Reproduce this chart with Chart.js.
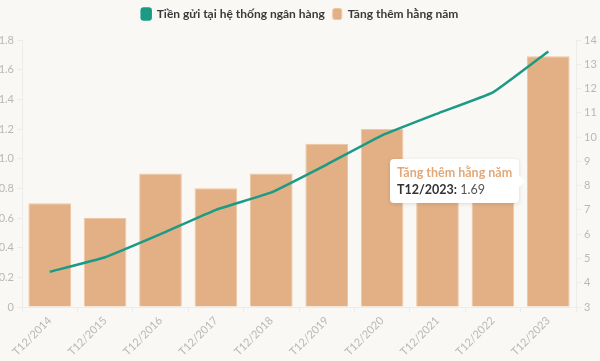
<!DOCTYPE html>
<html>
<head>
<meta charset="utf-8">
<script src="https://cdn.jsdelivr.net/npm/chart.js@4/dist/chart.umd.min.js"></script>
<style>
  html, body { margin: 0; padding: 0; background: #faf8f4; }
  #wrap { position: relative; width: 600px; height: 361px; }
  #tip {
    position: absolute; display: none; background: #fff; border-radius: 4px;
    padding: 6px 7px; font-family: Lato, "Open Sans", sans-serif; font-size: 12.5px;
    box-shadow: 0 1px 4px rgba(0,0,0,0.12); white-space: nowrap; pointer-events: none;
  }
  #tip .t { color: #e2a878; font-weight: bold; margin-bottom: 2px; }
  #tip .b { color: #555; }
  #tip .b b { color: #333; }
  #tip:after {
    content: ""; position: absolute; right: -6px; top: 50%; margin-top: -6px;
    border-style: solid; border-width: 6px 0 6px 6px;
    border-color: transparent transparent transparent #fff;
  }
</style>
</head>
<body>
<div id="wrap">
  <canvas id="chart" width="600" height="361"></canvas>
  <div id="tip"></div>
</div>
<script>
// dữ liệu
const categories = ["T12/2014", "T12/2015", "T12/2016", "T12/2017", "T12/2018",
  "T12/2019", "T12/2020", "T12/2021", "T12/2022", "T12/2023"];
const tienGui = [4.45, 5.05, 6.0, 7.0, 7.72, 8.87, 10.07, 10.97, 11.84, 13.53];
const tangThem = [0.7, 0.6, 0.9, 0.8, 0.9, 1.1, 1.2, 0.9, 0.87, 1.69];

const TEAL = "#1b9a86";
const ORANGE = "#e2b084";
const TICK = "#b8b8b8";
const GRID = "#ececec";
const FONT = "Lato, 'Open Sans', sans-serif";

// tooltip đặt ở cạnh trái, giữa thanh
Chart.Tooltip.positioners.barMiddle = function (items) {
  if (!items.length) return false;
  const el = items[0].element;
  return { x: el.x - el.width / 2, y: (el.y + el.base) / 2 };
};

// thêm khoảng trống dưới legend
const legendGap = {
  id: "legendGap",
  beforeInit(chart) {
    const fit = chart.legend.fit;
    chart.legend.fit = function () {
      fit.call(this);
      this.height += 10;
    };
  },
};

function externalTip(context) {
  const tip = document.getElementById("tip");
  const model = context.tooltip;
  if (model.opacity === 0 || !model.dataPoints || !model.dataPoints.length) {
    tip.style.display = "none";
    return;
  }
  const dp = model.dataPoints[0];
  tip.innerHTML =
    `<div class="t">${dp.dataset.label}</div>` +
    `<div class="b"><b>${dp.label}:</b> ${dp.raw}</div>`;
  tip.style.display = "block";
  const w = tip.offsetWidth, h = tip.offsetHeight;
  tip.style.left = (model.caretX - w - 8) + "px";
  tip.style.top = (model.caretY - h / 2) + "px";
}

const ctx = document.getElementById("chart").getContext("2d");
const chart = new Chart(ctx, {
  data: {
    labels: categories,
    datasets: [
      {
        type: "line",
        label: "Tiền gửi tại hệ thống ngân hàng",
        data: tienGui,
        yAxisID: "y1",
        borderColor: TEAL,
        backgroundColor: TEAL,
        borderWidth: 2.5,
        pointRadius: 0,
        pointHoverRadius: 0,
        tension: 0.1,
      },
      {
        type: "bar",
        label: "Tăng thêm hằng năm",
        data: tangThem,
        yAxisID: "y",
        backgroundColor: ORANGE,
        hoverBackgroundColor: ORANGE,
        borderColor: "#ecc7a3",
        hoverBorderColor: "#ecc7a3",
        borderWidth: 1,
        categoryPercentage: 0.77,
        barPercentage: 1,
      },
    ],
  },
  plugins: [legendGap],
  options: {
    responsive: false,
    animation: false,
    layout: { padding: 0 },
    plugins: {
      legend: {
        position: "top",
        labels: {
          font: { family: FONT, size: 12, weight: "bold" },
          color: "#3a3a3a",
          boxWidth: 9,
          boxHeight: 11,
          useBorderRadius: true,
          borderRadius: 2,
          padding: 8,
        },
      },
      tooltip: {
        enabled: false,
        position: "barMiddle",
        external: externalTip,
      },
    },
    scales: {
      x: {
        grid: { drawOnChartArea: false, color: GRID, tickLength: 5 },
        border: { color: GRID },
        ticks: {
          color: TICK,
          font: { family: FONT, size: 11 },
          maxRotation: 45,
          minRotation: 45,
          padding: 2,
        },
        afterFit(scale) { scale.height = 54; },
      },
      y: {
        position: "left",
        min: 0,
        max: 1.8,
        grid: { drawOnChartArea: false, color: GRID, tickLength: 5 },
        border: { color: GRID },
        ticks: { stepSize: 0.2, color: TICK, font: { family: FONT, size: 11 }, padding: 3 },
        afterFit(scale) { scale.width = 22; },
      },
      y1: {
        position: "right",
        min: 3,
        max: 14,
        grid: { drawOnChartArea: false, color: GRID, tickLength: 5 },
        border: { color: GRID },
        ticks: { stepSize: 1, color: TICK, font: { family: FONT, size: 11 }, padding: 3 },
        afterFit(scale) { scale.width = 24; },
      },
    },
  },
});

// hiện tooltip của cột cuối như trong ảnh
const active = [{ datasetIndex: 1, index: tangThem.length - 1 }];
chart.setActiveElements(active);
chart.tooltip.setActiveElements(active, { x: 0, y: 0 });
chart.update();
</script>
</body>
</html>
